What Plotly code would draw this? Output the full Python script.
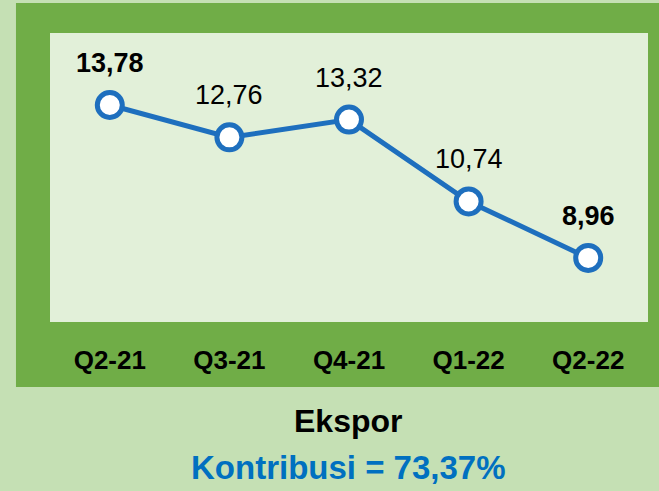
import plotly.graph_objs as go

# quarters and export growth values (%)
quarters = ['Q2-21', 'Q3-21', 'Q4-21', 'Q1-22', 'Q2-22']
ekspor = [13.78, 12.76, 13.32, 10.74, 8.96]

title_text = 'Ekspor'
kontribusi_text = 'Kontribusi = 73,37%'

font_family = 'Liberation Sans, Arial'

line = go.Scatter(x=quarters, y=ekspor,
                  mode='lines+markers',
                  line=dict(color='#1E6FBE', width=5),
                  marker=dict(size=25, color='white',
                              line=dict(color='#1E6FBE', width=5)),
                  cliponaxis=False, hoverinfo='skip')

fig = go.Figure(line)

# value labels: comma decimals, highest and lowest value in bold
for q, v in zip(quarters, ekspor):
    s = f'{v:.2f}'.replace('.', ',')
    if v == max(ekspor) or v == min(ekspor):
        s = '<b>' + s + '</b>'
    fig.add_annotation(x=q, y=v, text=s, showarrow=False,
                       yanchor='bottom', yshift=25,
                       font=dict(family=font_family, size=27, color='black'))

fig.update_xaxes(range=[-0.5, 4.5], showgrid=False, zeroline=False,
                 showline=False, ticks='', ticklabelstandoff=20,
                 tickfont=dict(family=font_family, size=26, color='black'),
                 tickprefix='<b>', ticksuffix='</b>')
fig.update_yaxes(range=[6.94, 16.05], visible=False)

# dark green frame and light green panel
fig.add_shape(type='rect', xref='paper', yref='paper', layer='below',
              x0=-0.0569, x1=1.02, y0=-0.2249, y1=1.1038,
              fillcolor='#70AD47', line_width=0)
fig.add_shape(type='rect', xref='paper', yref='paper', layer='below',
              x0=0, x1=1, y0=0, y1=1,
              fillcolor='#E2F0D9', line_width=0)

fig.add_annotation(text='<b>' + title_text + '</b>', xref='paper', yref='paper',
                   x=0.499, y=-0.412, yanchor='bottom', showarrow=False,
                   font=dict(family=font_family, size=32, color='black'))
fig.add_annotation(text='<b>' + kontribusi_text + '</b>', xref='paper', yref='paper',
                   x=0.499, y=-0.574, yanchor='bottom', showarrow=False,
                   font=dict(family=font_family, size=33, color='#0070C0'))

fig.update_layout(width=659, height=491,
                  margin=dict(l=50, r=11, t=33, b=169),
                  paper_bgcolor='#C5E0B4', plot_bgcolor='rgba(0,0,0,0)',
                  showlegend=False)

fig.write_html('out.html', config={'displayModeBar': False},
               post_script="document.body.style.margin='0';")
